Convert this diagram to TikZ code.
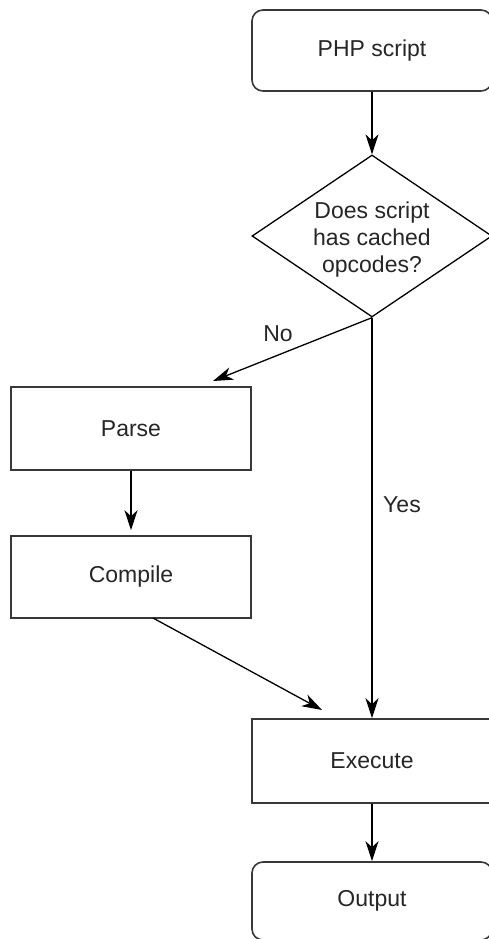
\documentclass[tikz,border=0pt]{standalone}
\usepackage{fontspec}
\setmainfont{Liberation Sans}
\usetikzlibrary{shapes.geometric,arrows.meta,calc}
\begin{document}
\begin{tikzpicture}[x=1pt,y=-1pt,
  font=\fontsize{23}{27}\selectfont,
  boxnode/.style={draw=black!78,line width=1.6pt,minimum width=240pt,inner sep=0pt,text=black!85},
  roundnode/.style={boxnode,rounded corners=11pt},
  decnode/.style={draw=black,line width=1.3pt,shape=diamond,minimum width=240pt,minimum height=162pt,inner sep=0pt},
  arr/.style={draw=black,line width=1.3pt,-{Stealth[length=20pt,width=13pt,inset=6pt]}},
  lbl/.style={text=black!85,inner sep=0pt}]
\clip (0,0) rectangle (489,939);
\fill[white] (0,0) rectangle (489,939);
\node[roundnode,minimum height=81pt] (php) at (372,50.5) {PHP script};
\node[decnode,label={[align=center,text=black!85,yshift=-4pt]center:Does script\\has cached\\opcodes?}] (dec) at (372,236) {};
\node[boxnode,minimum height=83pt] (parse) at (131,428.5) {Parse};
\node[boxnode,minimum height=82pt] (compile) at (131,577) {Compile};
\node[boxnode,minimum height=84pt] (exec) at (372,761) {Execute};
\node[roundnode,minimum height=78pt] (out) at (372,901) {Output};
\coordinate (noend) at (213,381);
\coordinate (cstart) at (153,618);
\coordinate (cend) at (322,710);
\draw[arr] (php.south) -- (dec.north);
\draw[arr] (dec.south) -- (noend);
\node[lbl] (nolbl) at (278,334) {No};
\draw[arr] (dec.south) -- (exec.north);
\node[lbl] (yeslbl) at (402,505) {Yes};
\draw[arr,shorten >=5pt] (parse.south) -- (compile.north);
\draw[arr] (cstart) -- (cend);
\draw[arr] (exec.south) -- (out.north);
\end{tikzpicture}
\end{document}
